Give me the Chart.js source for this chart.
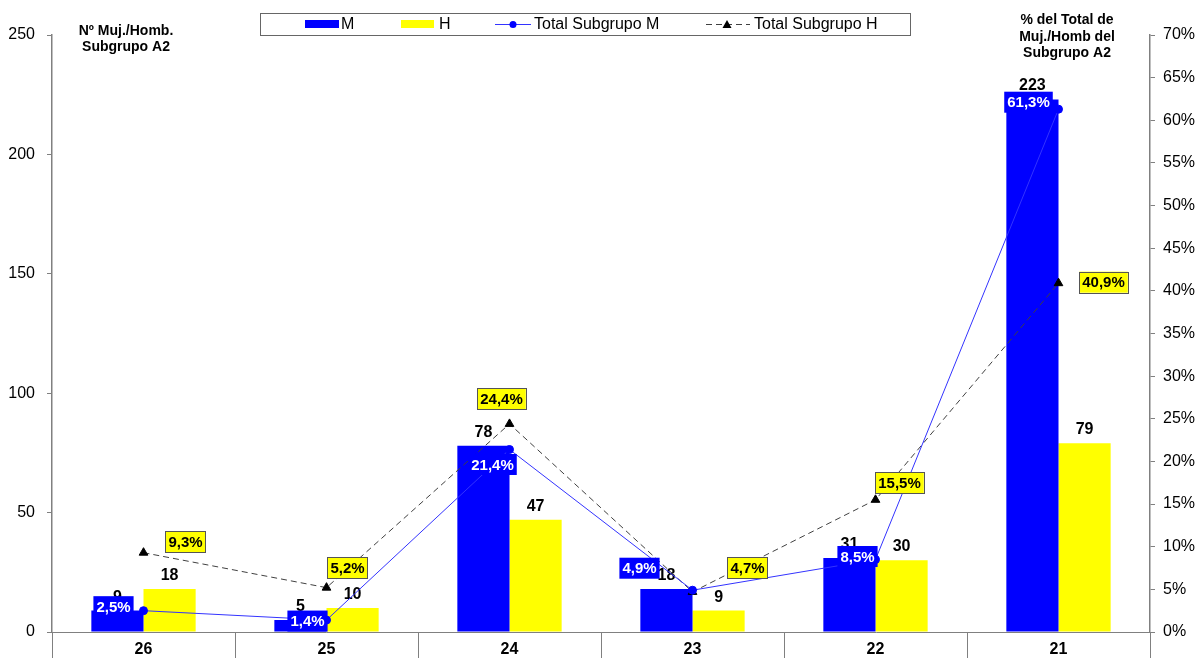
<!DOCTYPE html>
<html>
<head>
<meta charset="utf-8">
<script src="https://cdn.jsdelivr.net/npm/chart.js@4/dist/chart.umd.min.js"></script>
<style>
  html, body { margin: 0; padding: 0; background: #fff; }
  #wrap { width: 1197px; height: 658px; position: relative; }
</style>
</head>
<body>
<div id="wrap"><canvas id="chart"></canvas></div>
<script>
// ---- data ----
const categories = ["26", "25", "24", "23", "22", "21"];
const mujeres = [9, 5, 78, 18, 31, 223];
const hombres = [18, 10, 47, 9, 30, 79];
const pctMujeres = [2.5, 1.4, 21.4, 4.9, 8.5, 61.3];
const pctHombres = [9.3, 5.2, 24.4, 4.7, 15.5, 40.9];
const leftTicks = [0, 50, 100, 150, 200, 250];

// label placement (box centre relative to the point)
const offM = [[-30, -4], [-19, 1], [-17, 15], [-53, -22], [-18, -3], [-30, -7]];
const offH = [[42, -11], [21, -20], [-8, -25], [55, -24], [24, -17], [45, -1]];

const FONT = 'Arial, "Liberation Sans", sans-serif';
Chart.defaults.font.family = FONT;
const GRAY = "#808080";

function fmtPct(v) {
    return v.toFixed(1).replace(".", ",") + "%";
}

/* ---------- custom drawing ---------- */
const decorations = {
    id: "decorations",
    afterDatasetDraw(chart, args) {
        const ds = chart.data.datasets[args.index];
        if (ds.type === "line") return;
        const ctx = chart.ctx;
        ctx.save();
        ctx.font = "bold 16px " + FONT;
        ctx.fillStyle = "#000";
        ctx.textAlign = "center";
        ctx.textBaseline = "alphabetic";
        args.meta.data.forEach((bar, i) => {
            ctx.fillText(String(ds.data[i]), bar.x, bar.y - 9);
        });
        ctx.restore();
    },
    afterDatasetsDraw(chart) {
        const ctx = chart.ctx;
        ctx.save();
        ctx.font = "bold 15px " + FONT;
        ctx.textAlign = "center";
        ctx.textBaseline = "middle";
        chart.data.datasets.forEach((ds, di) => {
            if (ds.type !== "line") return;
            const meta = chart.getDatasetMeta(di);
            const isM = ds.label === "Total Subgrupo M";
            const offs = isM ? offM : offH;
            meta.data.forEach((pt, i) => {
                const txt = fmtPct(ds.data[i]);
                const w = ctx.measureText(txt).width + 6;
                const h = 21;
                const cx = pt.x + offs[i][0];
                const cy = pt.y + offs[i][1];
                if (isM) {
                    ctx.fillStyle = "#0000FF";
                    ctx.fillRect(cx - w / 2, cy - h / 2, w, h);
                    ctx.fillStyle = "#fff";
                } else {
                    ctx.fillStyle = "#FFFF00";
                    ctx.fillRect(cx - w / 2, cy - h / 2, w, h);
                    ctx.strokeStyle = "#555";
                    ctx.lineWidth = 1;
                    ctx.strokeRect(Math.round(cx - w / 2) + 0.5, Math.round(cy - h / 2) + 0.5, Math.round(w), h);
                    ctx.fillStyle = "#000";
                }
                ctx.fillText(txt, cx, cy + 1);
            });
        });
        ctx.restore();
    },
    afterDraw(chart) {
        const ctx = chart.ctx;
        const area = chart.chartArea;
        ctx.save();

        // category separators under the x axis
        ctx.strokeStyle = GRAY;
        ctx.lineWidth = 1;
        const n = categories.length;
        const step = (area.right - area.left) / n;
        for (let i = 0; i <= n; i++) {
            const x = Math.round(area.left + i * step) + 0.5;
            ctx.beginPath();
            ctx.moveTo(x, area.bottom);
            ctx.lineTo(x, chart.height);
            ctx.stroke();
        }

        // axis titles
        ctx.fillStyle = "#000";
        ctx.font = "bold 14px " + FONT;
        ctx.textAlign = "center";
        ctx.textBaseline = "middle";
        ctx.fillText("Nº Muj./Homb.", 126, 31);
        ctx.fillText("Subgrupo A2", 126, 47);
        ctx.fillText("% del Total de", 1067, 20);
        ctx.fillText("Muj./Homb del", 1067, 37);
        ctx.fillText("Subgrupo A2", 1067, 53);

        // legend
        ctx.strokeStyle = "#666";
        ctx.strokeRect(260.5, 13.5, 650, 22);
        const ly = 24;
        ctx.font = "16px " + FONT;
        ctx.textAlign = "left";
        ctx.fillStyle = "#0000FF";
        ctx.fillRect(305, ly - 4, 34, 8);
        ctx.fillStyle = "#FFFF00";
        ctx.fillRect(401, ly - 4, 33, 8);
        ctx.fillStyle = "#000";
        ctx.fillText("M", 341, ly + 1);
        ctx.fillText("H", 439, ly + 1);

        ctx.strokeStyle = "#3333FF";
        ctx.beginPath();
        ctx.moveTo(495, ly + 0.5);
        ctx.lineTo(531, ly + 0.5);
        ctx.stroke();
        ctx.fillStyle = "#0000FF";
        ctx.beginPath();
        ctx.arc(513, ly + 0.5, 3.5, 0, Math.PI * 2);
        ctx.fill();
        ctx.fillStyle = "#000";
        ctx.fillText("Total Subgrupo M", 534, ly + 1);

        ctx.strokeStyle = "#404040";
        ctx.setLineDash([6, 4]);
        ctx.beginPath();
        ctx.moveTo(706, ly + 0.5);
        ctx.lineTo(750, ly + 0.5);
        ctx.stroke();
        ctx.setLineDash([]);
        ctx.fillStyle = "#000";
        ctx.beginPath();
        ctx.moveTo(727, ly - 4);
        ctx.lineTo(731.5, ly + 4);
        ctx.lineTo(722.5, ly + 4);
        ctx.closePath();
        ctx.fill();
        ctx.fillText("Total Subgrupo H", 754, ly + 1);

        ctx.restore();
    }
};

/* ---------- chart ---------- */
new Chart(document.getElementById("chart"), {
    type: "bar",
    data: {
        labels: categories,
        datasets: [
            {
                label: "M",
                data: mujeres,
                backgroundColor: "#0000FF",
                yAxisID: "y",
                categoryPercentage: 0.57,
                barPercentage: 1,
                order: 3
            },
            {
                label: "H",
                data: hombres,
                backgroundColor: "#FFFF00",
                yAxisID: "y",
                categoryPercentage: 0.57,
                barPercentage: 1,
                order: 3
            },
            {
                type: "line",
                label: "Total Subgrupo M",
                data: pctMujeres,
                yAxisID: "y1",
                borderColor: "#3333FF",
                borderWidth: 1,
                pointStyle: "circle",
                pointRadius: 4,
                pointBackgroundColor: "#0000FF",
                pointBorderColor: "#0000FF",
                tension: 0,
                order: 1
            },
            {
                type: "line",
                label: "Total Subgrupo H",
                data: pctHombres,
                yAxisID: "y1",
                borderColor: "#404040",
                borderWidth: 1,
                borderDash: [6, 4],
                pointStyle: "triangle",
                pointRadius: 5,
                pointBackgroundColor: "#000",
                pointBorderColor: "#000",
                tension: 0,
                order: 2
            }
        ]
    },
    options: {
        responsive: true,
        maintainAspectRatio: false,
        animation: false,
        layout: { padding: { top: 35, left: 0, right: 0, bottom: 0 } },
        plugins: {
            legend: { display: false },
            tooltip: { enabled: false }
        },
        scales: {
            x: {
                grid: { display: false },
                border: { color: GRAY, width: 1 },
                ticks: { color: "#000", font: { size: 16, weight: "bold" }, padding: 0 },
                afterFit(scale) { scale.height = 26; }
            },
            y: {
                position: "left",
                min: 0,
                max: 250,
                afterBuildTicks(scale) { scale.ticks = leftTicks.map(v => ({ value: v })); },
                grid: { drawOnChartArea: false, tickLength: 5, color: GRAY },
                border: { color: GRAY, width: 1.5 },
                ticks: { color: "#000", font: { size: 16 }, padding: 12 },
                afterFit(scale) { scale.width = 52; }
            },
            y1: {
                position: "right",
                min: 0,
                max: 70,
                ticks: {
                    stepSize: 5,
                    color: "#000",
                    font: { size: 16 },
                    padding: 8,
                    callback: v => v + "%"
                },
                grid: { drawOnChartArea: false, tickLength: 5, color: GRAY },
                border: { color: GRAY, width: 1.5 },
                afterFit(scale) { scale.width = 47; }
            }
        }
    },
    plugins: [decorations]
});
</script>
</body>
</html>
